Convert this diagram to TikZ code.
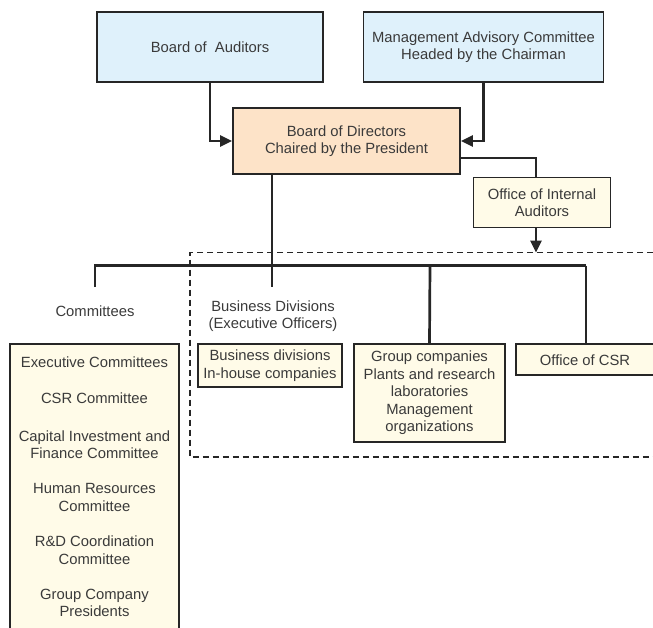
\documentclass[tikz,border=0pt]{standalone}
\usepackage{fontspec}
\setmainfont{Liberation Sans}
\usetikzlibrary{arrows.meta}
\definecolor{txt}{HTML}{3A3A3A}
\definecolor{bord}{HTML}{262626}
\definecolor{blu}{HTML}{DFF1FB}
\definecolor{pea}{HTML}{FDE3C8}
\definecolor{crm}{HTML}{FFFBE8}
\tikzset{
  box/.style={draw=bord, line width=1.7pt, align=center, text=txt, inner sep=0pt,
    font=\fontsize{14.8}{17.5}\selectfont},
  lbl/.style={align=center, text=txt, inner sep=0pt, font=\fontsize{14.8}{17.5}\selectfont},
  conn/.style={draw=bord, line width=2.7pt},
  arr/.style={conn, -{Triangle[length=12pt,width=11pt]}},
  dsh/.style={draw=bord, line width=1.1pt, dash pattern=on 6pt off 4pt},
  frame/.style={draw=bord, line width=1.7pt}
}
\begin{document}
\begin{tikzpicture}[x=1pt,y=-1pt]
\useasboundingbox (0,0) rectangle (653,627);
% top boxes
\node[box, fill=blu, minimum width=226pt, minimum height=70pt] (boa) at (210,47) {Board of\ \ Auditors};
\node[box, fill=blu, minimum width=240pt, minimum height=70pt] (mac) at (483.5,47) {Management Advisory Committee\\Headed by the Chairman};
\node[box, fill=pea, minimum width=227pt, minimum height=66pt] (bod) at (346.5,141) {Board of Directors\\Chaired by the President};
\node[box, fill=crm, minimum width=137pt, minimum height=50pt] (oia) at (542,202.5) {Office of Internal\\Auditors};
\draw[arr] (boa.south) |- (bod.west);
\draw[arr] (mac.south) |- (bod.east);
\coordinate (oiain) at (536,178);
\draw[conn] ([yshift=-17pt]bod.east) -| (oiain);
% dashed region
\coordinate (dTL) at (190,252.5);
\coordinate (dTR) at (653,252.5);
\coordinate (dBL) at (190,457);
\coordinate (dBR) at (653,457);
\draw[dsh] (dTR) -- (dTL) -- (dBL) -- (dBR);
\coordinate (oiaout) at (536,227);
\coordinate (oiatip) at (536,252.5);
\draw[arr] (oiaout) -- (oiatip);
% bus
\coordinate (bodout) at (272,174);
\coordinate (busL) at (95,265.5);
\coordinate (busR) at (586,265.5);
\coordinate (dropA) at (95,287);
\coordinate (dropB) at (272,287);
\coordinate (busG) at (430,265.5);
\draw[conn] (bodout) -- (dropB);
\draw[conn] (dropA) -- (busL) -- (busR);
% labels
\node[lbl] (comm) at (95,311) {Committees};
\node[lbl] (bdiv) at (273,316) {Business Divisions\\(Executive Officers)};
\node[box, fill=crm, minimum width=144pt, minimum height=43pt] (bd) at (270,365.5) {Business divisions\\In-house companies};
\node[box, fill=crm, minimum width=151pt, minimum height=98pt] (gc) at (429.5,393) {Group companies\\Plants and research\\laboratories\\Management\\organizations};
\draw[conn] (busG) -- (gc.north);
% office of CSR (cut at right edge)
\path[fill=crm] (516,344) rectangle (660,375);
\draw[frame] (660,344) -- (516,344) -- (516,375) -- (660,375);
\node[lbl] (csr) at (585,360) {Office of CSR};
\coordinate (csrin) at (586,344);
\draw[conn] (busR) -- (csrin);
% committees box (cut at bottom)
\path[fill=crm] (10,344) rectangle (179,640);
\draw[frame] (10,640) -- (10,344) -- (179,344) -- (179,640);
\node[lbl] (c1) at (94.5,362) {Executive Committees};
\node[lbl] (c2) at (94.5,398.5) {CSR Committee};
\node[lbl] (c3) at (94.5,444.5) {Capital Investment and\\Finance Committee};
\node[lbl] (c4) at (94.5,497.5) {Human Resources\\Committee};
\node[lbl] (c5) at (94.5,550) {R\&D Coordination\\Committee};
\node[lbl] (c6) at (94.5,603) {Group Company\\Presidents};
\end{tikzpicture}
\end{document}
